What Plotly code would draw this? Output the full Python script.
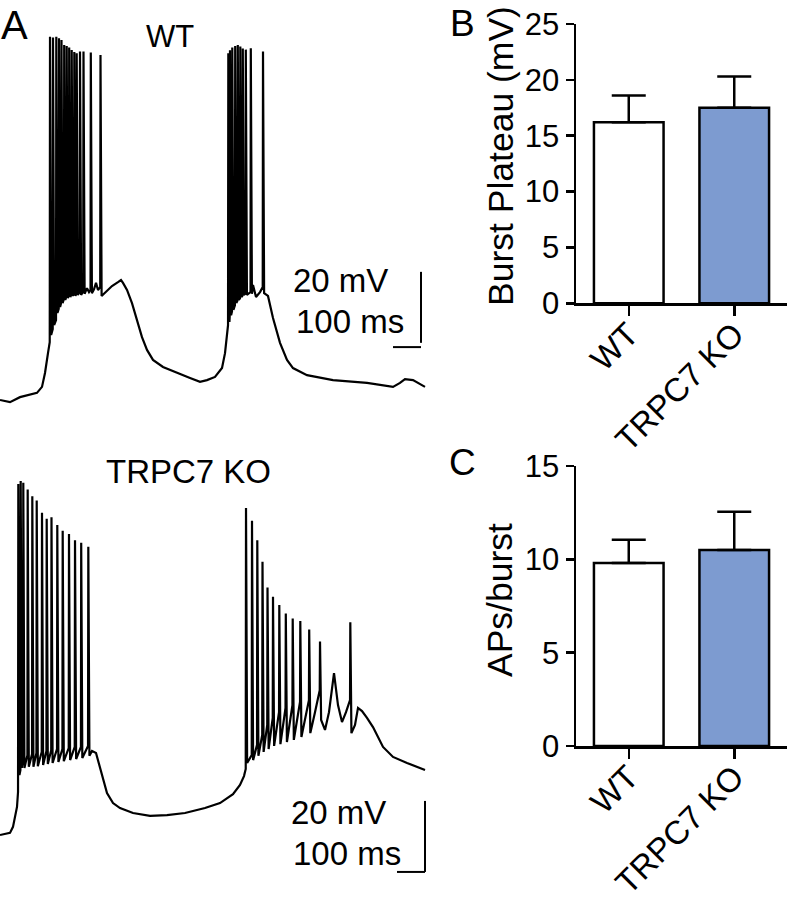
import plotly.graph_objects as go

# ---------------- data ----------------
# Panel A, WT trace (time in ms, membrane potential in mV)
WT_ENV_T = [0, 35.7, 71.4, 107.1, 132.1, 150.0, 160.7, 171.4, 176.8,
            310.7, 317.9, 335.7, 342.9, 350.0,
            382.1, 400.0, 421.4, 432.1, 439.3, 453.6, 471.4, 489.3, 507.1, 525.0, 546.4, 582.1,
            632.1, 678.6, 714.3, 739.3, 767.9, 792.9, 803.6, 810.7,
            903.6, 914.3, 928.6,
            957.1, 975.0, 1000.0, 1025.0, 1046.4, 1096.4, 1189.3, 1310.7, 1403.6, 1428.6,
            1446.4, 1475.0, 1492.9, 1517.9]
WT_ENV_V = [-60.0, -60.6, -59.2, -58.6, -58.0, -56.3, -52.4, -46.8, -43.7,
            -28.5, -29.6, -28.8, -27.0, -29.0,
            -29.3, -27.9, -26.8, -26.2, -27.0, -29.0, -32.7, -37.5, -42.3, -45.9, -48.7, -50.7,
            -52.4, -53.8, -54.9, -54.4, -53.5, -51.0, -46.8, -41.1,
            -27.6, -31.0, -29.6,
            -30.7, -36.9, -43.9, -48.7, -51.0, -53.0, -54.4, -55.2, -56.3, -55.2,
            -54.1, -54.4, -55.2, -56.3]
WT_SPK_T = [178.6, 189.3, 201.1, 210.7, 219.6, 229.3, 238.2, 247.1, 256.1, 265.4, 273.9, 285.7, 298.2, 324.3, 358.9,
            815.4, 821.4, 829.6, 840.0, 849.3, 858.2, 867.1, 877.9, 895.7, 939.3]
WT_SPK_PEAK = [42.3, 42.1, 42.3, 41.9, 41.4, 40.0, 39.7, 39.3, 38.6, 38.0, 37.7, 38.2, 38.2, 37.9, 37.2,
               37.7, 38.5, 39.3, 39.7, 40.0, 39.6, 39.0, 38.7, 39.1, 38.2]
WT_SPK_PRE = [-43.7, -40.0, -37.5, -34.3, -32.6, -31.5, -30.8, -30.3, -30.0, -29.8, -29.8, -29.6, -29.4, -29.0, -28.2,
              -38.9, -36.5, -35.0, -33.3, -32.0, -31.3, -30.6, -30.0, -29.6, -28.2]
WT_SPK_TROUGH = [-41.7, -38.9, -35.5, -33.8, -32.7, -31.8, -31.3, -31.0, -30.7, -30.7, -30.4, -30.4, -30.1, -29.9, -30.7,
                 -38.0, -36.1, -34.6, -32.7, -31.8, -31.0, -30.4, -30.4, -30.1, -29.9]

# Panel A, TRPC7 KO trace
KO_ENV_T = [0, 35.7, 46.4, 53.6, 60.7,
            328.6, 342.9, 357.1, 367.9, 382.1, 403.6, 428.6, 475.0, 535.7, 596.4, 660.7, 732.1,
            785.7, 832.1, 857.1, 871.4,
            1125.0, 1160.7, 1175.0, 1192.9, 1207.1, 1221.4, 1235.7,
            1267.9, 1278.6, 1292.9, 1310.7, 1332.1, 1367.9, 1403.6, 1453.6, 1482.1, 1517.9]
KO_ENV_V = [-60.0, -59.4, -57.7, -54.8, -52.1,
            -36.3, -36.9, -40.8, -44.5, -48.2, -51.0, -52.4, -53.8, -54.6, -54.4, -53.8, -52.4,
            -51.0, -48.5, -45.9, -43.4,
            -25.4, -30.4, -25.4, -14.4, -23.4, -28.2, -25.4,
            -29.0, -24.2, -25.1, -27.0, -29.6, -35.2, -38.0, -39.7, -40.6, -41.7]
KO_SPK_T = [65.4, 73.9, 83.2, 98.9, 115.4, 131.1, 150.0, 166.8, 183.9, 204.6, 223.9, 246.4, 267.9, 290.0, 315.4,
            878.6, 900.0, 918.9, 937.5, 955.4, 975.0, 997.5, 1020.7, 1045.4, 1072.5, 1104.3, 1142.9, 1251.1]
KO_SPK_PEAK = [38.9, 39.7, 39.2, 37.3, 35.4, 34.2, 30.8, 29.1, 29.5, 27.3, 25.7, 24.8, 23.0, 22.3, 21.2,
               32.1, 28.5, 23.0, 17.0, 9.7, 7.1, 4.8, 2.4, 1.0, 0.3, -2.1, -5.5, -0.1]
KO_SPK_PRE = [-47.9, -41.7, -38.0, -37.5, -37.2, -36.9, -36.6, -36.3, -36.1, -35.8, -35.8, -35.5, -35.2, -35.2, -34.9,
              -41.4, -37.5, -34.6, -31.8, -29.0, -27.0, -25.4, -24.2, -23.4, -22.5, -22.0, -19.2, -22.0]
KO_SPK_TROUGH = [-43.1, -41.1, -41.1, -40.8, -40.8, -40.6, -40.3, -40.0, -39.7, -39.4, -39.2, -38.9, -38.6, -38.3, -37.7,
                 -39.7, -38.9, -37.7, -36.6, -35.8, -34.9, -34.4, -33.8, -33.2, -32.4, -31.3, -27.6, -31.3]

# Panels B and C
GROUPS = ["WT", "TRPC7 KO"]
PLATEAU_MEAN = [16.2, 17.5]
PLATEAU_SEM = [2.4, 2.8]
APS_MEAN = [9.8, 10.5]
APS_SEM = [1.25, 2.05]
BAR_COLORS = ["#ffffff", "#7d9bd0"]

SCALE_MV = 20
SCALE_MS = 100

# ---------------- helpers ----------------
W, H = 791, 903
FONT = "Liberation Sans, Arial, sans-serif"
SPIKE_RISE = 1.0   # ms before peak
SPIKE_FALL = 4.0   # ms after peak


def build_trace(env_t, env_v, spk_t, peak, pre, trough):
    pts = list(zip(env_t, env_v))
    for t, p, a, b in zip(spk_t, peak, pre, trough):
        pts += [(t - SPIKE_RISE, a), (t, p), (t + SPIKE_FALL, b)]
    pts.sort(key=lambda q: q[0])
    return [q[0] for q in pts], [q[1] for q in pts]


def px(x):
    return x / W


def py(y):
    return 1 - y / H


fig = go.Figure()

wt_t, wt_v = build_trace(WT_ENV_T, WT_ENV_V, WT_SPK_T, WT_SPK_PEAK, WT_SPK_PRE, WT_SPK_TROUGH)
ko_t, ko_v = build_trace(KO_ENV_T, KO_ENV_V, KO_SPK_T, KO_SPK_PEAK, KO_SPK_PRE, KO_SPK_TROUGH)

line_style = dict(color="black", width=2.2)
fig.add_trace(go.Scatter(x=wt_t, y=wt_v, mode="lines", line=line_style, xaxis="x", yaxis="y",
                         showlegend=False, hoverinfo="skip"))
fig.add_trace(go.Scatter(x=ko_t, y=ko_v, mode="lines", line=line_style, xaxis="x2", yaxis="y2",
                         showlegend=False, hoverinfo="skip"))

# scale bars
bar_line = dict(color="black", width=2)
wt_bx, wt_by_top, wt_hy = 1503.6, -23.9, -45.1
fig.add_trace(go.Scatter(x=[wt_bx, wt_bx], y=[wt_by_top, wt_by_top - SCALE_MV], mode="lines", line=bar_line,
                         xaxis="x", yaxis="y", showlegend=False, hoverinfo="skip"))
fig.add_trace(go.Scatter(x=[wt_bx - SCALE_MS, wt_bx], y=[wt_hy, wt_hy], mode="lines", line=bar_line,
                         xaxis="x", yaxis="y", showlegend=False, hoverinfo="skip"))
ko_bx, ko_by_top = 1517.9, -50.4
fig.add_trace(go.Scatter(x=[ko_bx, ko_bx], y=[ko_by_top, ko_by_top - SCALE_MV], mode="lines", line=bar_line,
                         xaxis="x2", yaxis="y2", showlegend=False, hoverinfo="skip"))
fig.add_trace(go.Scatter(x=[ko_bx - SCALE_MS, ko_bx], y=[ko_by_top - SCALE_MV, ko_by_top - SCALE_MV],
                         mode="lines", line=bar_line, xaxis="x2", yaxis="y2", showlegend=False, hoverinfo="skip"))

# bar charts
for means, sems, xa, ya in [(PLATEAU_MEAN, PLATEAU_SEM, "x3", "y3"), (APS_MEAN, APS_SEM, "x4", "y4")]:
    fig.add_trace(go.Bar(
        x=GROUPS, y=means, width=0.66,
        marker=dict(color=BAR_COLORS, line=dict(color="black", width=2.5)),
        error_y=dict(type="data", array=sems, arrayminus=[0] * len(sems), symmetric=False,
                     color="black", thickness=2.5, width=17),
        xaxis=xa, yaxis=ya, showlegend=False, hoverinfo="skip"))

trace_dom_x = [0, px(440)]
hidden = dict(visible=False, fixedrange=True, automargin=False)
bar_x_common = dict(domain=[px(576), px(787)], range=[-0.5, 1.5], type="category", automargin=False,
                    showline=True, linecolor="black", linewidth=2.5, ticks="outside", ticklen=10,
                    tickwidth=2.5, tickcolor="black", tickangle=-45, ticklabelstandoff=-14,
                    tickfont=dict(family=FONT, size=33, color="black"),
                    showgrid=False, zeroline=False, fixedrange=True)
bar_y_common = dict(showline=True, linecolor="black", linewidth=2.5, ticks="outside", ticklen=8,
                    tickwidth=2.5, tickcolor="black", tickfont=dict(family=FONT, size=31, color="black"),
                    showgrid=False, zeroline=False, dtick=5, automargin=False, fixedrange=True)

fig.update_layout(
    template="none",
    width=W, height=H, margin=dict(l=0, r=0, t=0, b=0, pad=0), autosize=False,
    paper_bgcolor="white", plot_bgcolor="rgba(0,0,0,0)",
    font=dict(family=FONT, color="black"),
    xaxis=dict(domain=trace_dom_x, range=[0, 440 * 100 / 28], anchor="y", **hidden),
    yaxis=dict(domain=[py(440), 1], range=[-71.27, 52.68], anchor="x", **hidden),
    xaxis2=dict(domain=trace_dom_x, range=[0, 440 * 100 / 28], anchor="y2", **hidden),
    yaxis2=dict(domain=[0, py(440)], range=[-79.15, 51.27], anchor="x2", **hidden),
    xaxis3=dict(anchor="y3", **bar_x_common),
    yaxis3=dict(domain=[py(303.3), py(24)], range=[0, 25], anchor="x3", **bar_y_common),
    xaxis4=dict(anchor="y4", **bar_x_common),
    yaxis4=dict(domain=[py(746), py(466)], range=[0, 15], anchor="x4", **bar_y_common),
    showlegend=False,
)

annots = [
    ("A", 14, 25, 40, 0), ("B", 462, 24, 37, 0), ("C", 462, 462, 37, 0),
    ("WT", 170, 36, 31, 0), ("TRPC7 KO", 188, 472, 33, 0),
    ("20 mV", 340, 280, 33, 0), ("100 ms", 350, 322, 33, 0),
    ("20 mV", 338, 812, 33, 0), ("100 ms", 347, 853, 33, 0),
    ("Burst Plateau (mV)", 501, 156, 35.5, -90), ("APs/burst", 500, 600, 35.5, -90),
]
for text, x, y, size, ang in annots:
    fig.add_annotation(text=text, x=px(x), y=py(y), xref="paper", yref="paper", showarrow=False,
                       xanchor="center", yanchor="middle", textangle=ang,
                       font=dict(family=FONT, size=size, color="black"))

fig.write_html("out.html", config={"displayModeBar": False, "staticPlot": True},
               post_script="document.body.style.margin='0';document.body.style.overflow='hidden';")
